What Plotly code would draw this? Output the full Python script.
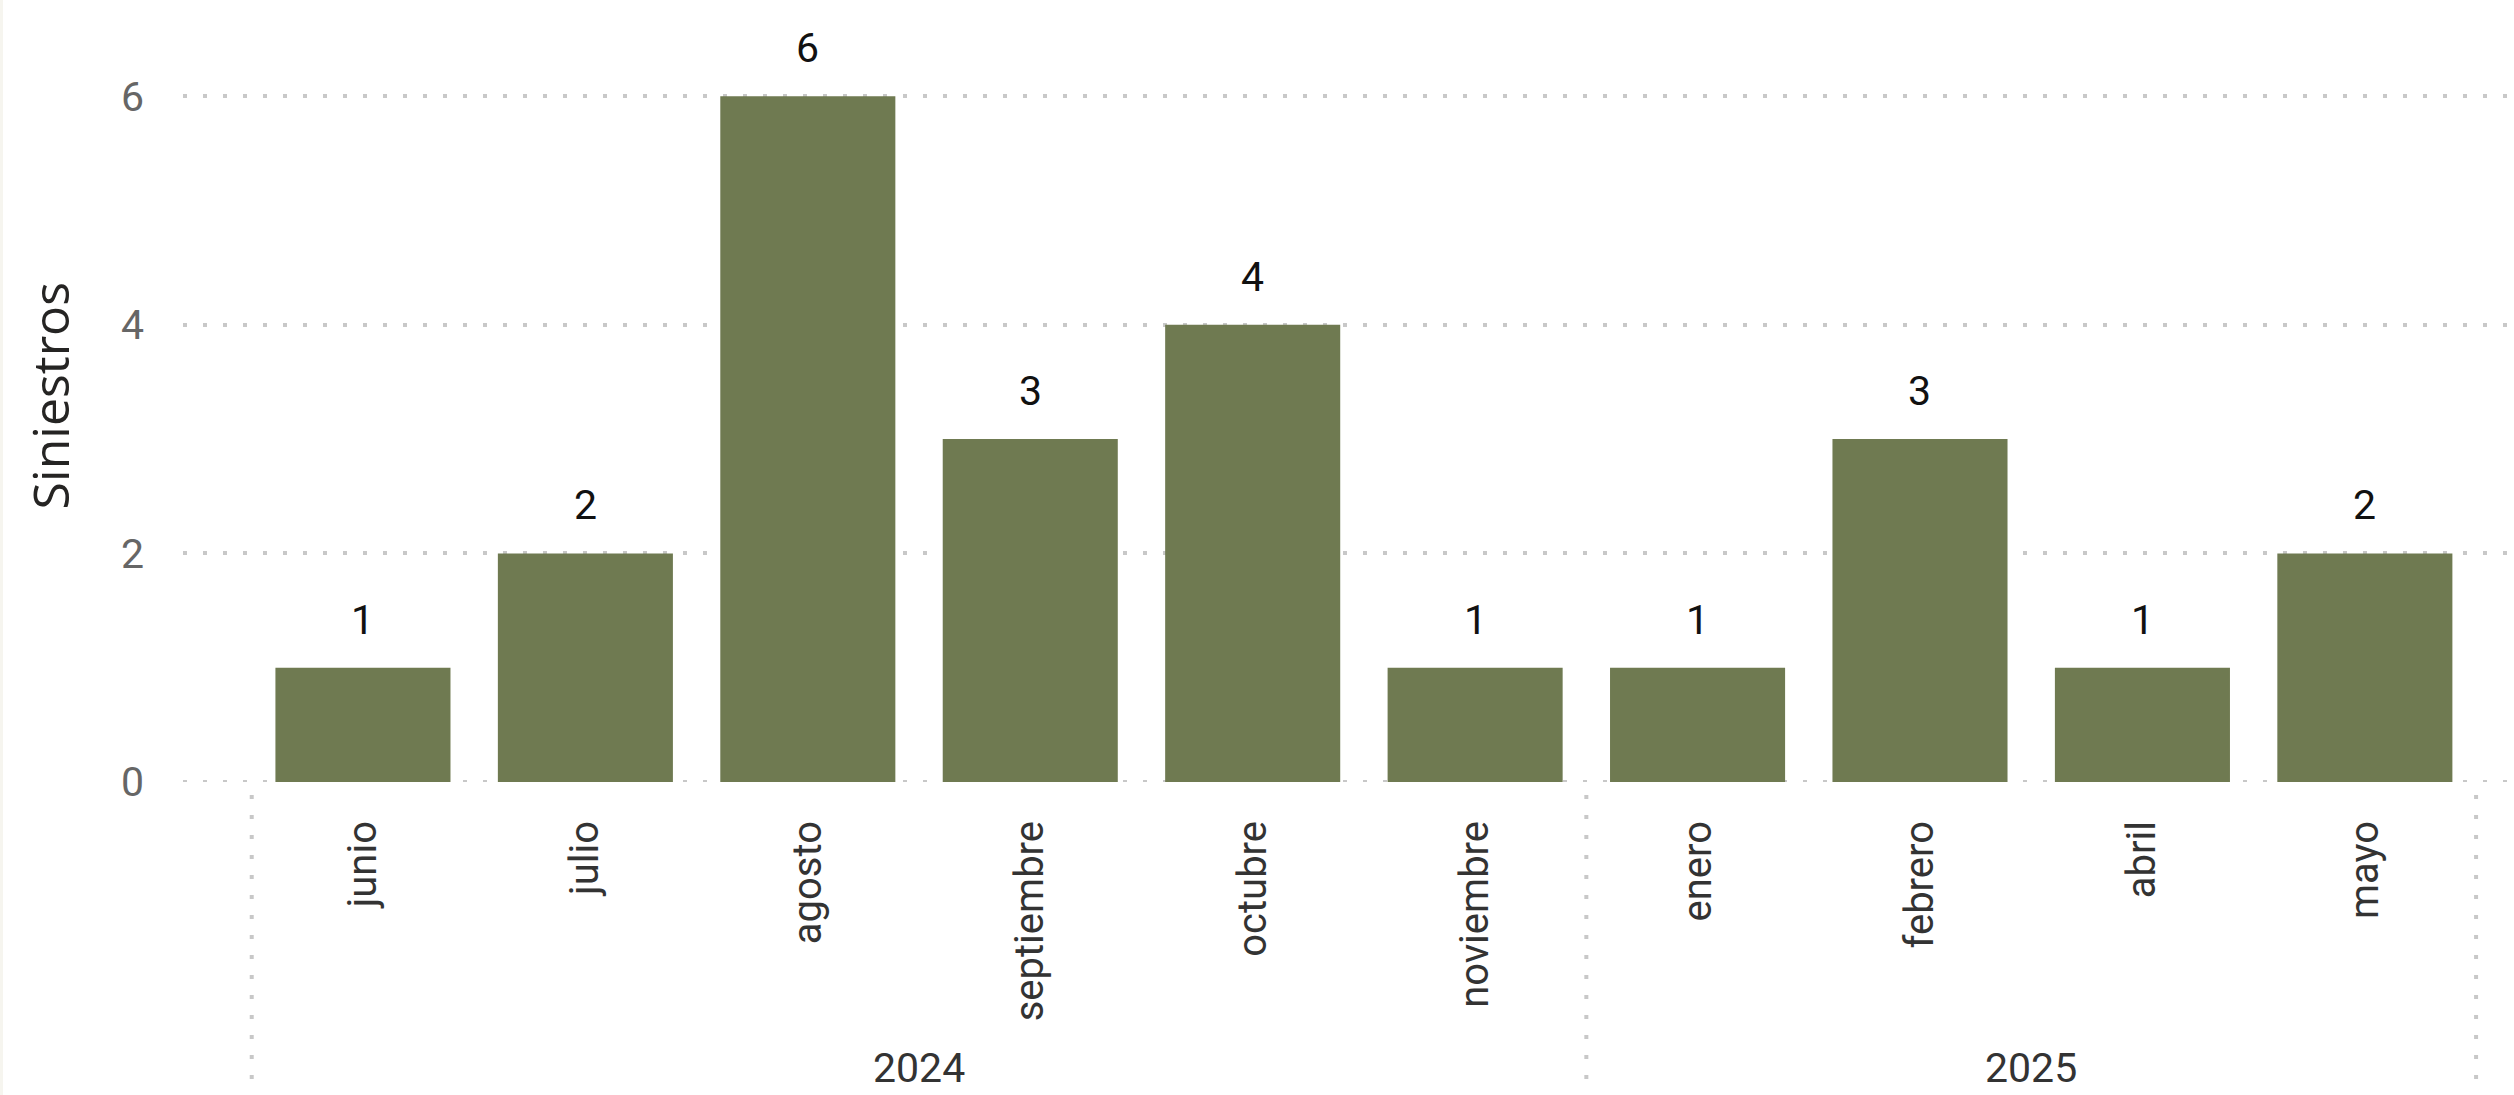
import plotly.graph_objects as go

# Monthly claim counts, grouped by year
months = ["junio", "julio", "agosto", "septiembre", "octubre", "noviembre",
          "enero", "febrero", "abril", "mayo"]
years = ["2024", "2024", "2024", "2024", "2024", "2024",
         "2025", "2025", "2025", "2025"]
siniestros = [1, 2, 6, 3, 4, 1, 1, 3, 1, 2]
y_ticks = [0, 2, 4, 6]
y_title = "Siniestros"

BAR_COLOR = "#6f7a51"
GRID_COLOR = "#c8c8c8"
DOTS = "4px,16px"
LABEL_FONT = "Roboto"

W, H = 2514, 1095
M_L, M_R, M_T, M_B = 183, 5, 39, 313

fig = go.Figure()
fig.add_trace(go.Bar(
    x=months,
    y=siniestros,
    marker=dict(color=BAR_COLOR, line=dict(width=0)),
    hoverinfo="x+y",
))

# value labels above each bar
for i, v in enumerate(siniestros):
    fig.add_annotation(
        x=i, y=v, text=str(v), showarrow=False,
        xref="x", yref="y", yanchor="bottom", yshift=22,
        font=dict(family=LABEL_FONT, size=41, color="#111111"),
    )

# dotted baseline at zero (the range starts there, so draw it explicitly)
fig.add_shape(
    type="line", xref="paper", yref="y",
    x0=0, x1=1, y0=0, y1=0,
    line=dict(color=GRID_COLOR, width=4, dash=DOTS),
    layer="below",
)

# year group labels and dotted separators between groups
groups = []
for i, yr in enumerate(years):
    if not groups or groups[-1][0] != yr:
        groups.append([yr, i, i])
    else:
        groups[-1][2] = i

bounds = [groups[0][1] - 0.5] + [g[2] + 0.5 for g in groups]
for b in bounds:
    fig.add_shape(
        type="line", xref="x", yref="paper",
        ysizemode="pixel", yanchor=0, y0=-13, y1=-320,
        x0=b, x1=b,
        line=dict(color=GRID_COLOR, width=4, dash=DOTS),
        layer="below",
    )

for yr, a, b in groups:
    fig.add_annotation(
        x=(a + b) / 2, y=0, xref="x", yref="paper",
        yanchor="middle", yshift=-286, text=yr, showarrow=False,
        font=dict(family=LABEL_FONT, size=41, color="#333333"),
    )

# axis title
fig.add_annotation(
    x=0, y=0.519, xref="paper", yref="paper", xshift=-133,
    xanchor="center", yanchor="middle", textangle=-90,
    text=y_title, showarrow=False,
    font=dict(family="Open Sans", size=50, color="#252423"),
)

# thin tinted strip along the left edge of the canvas
fig.add_shape(
    type="rect", xref="paper", yref="paper",
    xsizemode="pixel", xanchor=0, x0=-M_L, x1=-M_L + 3,
    ysizemode="pixel", yanchor=0, y0=-M_B, y1=H,
    fillcolor="#f6f5ef", line=dict(width=0), layer="below",
)

n = len(months)
fig.update_layout(
    width=W, height=H,
    margin=dict(l=M_L, r=M_R, t=M_T, b=M_B, autoexpand=False),
    paper_bgcolor="white", plot_bgcolor="white",
    bargap=0.213,
    showlegend=False,
    xaxis=dict(
        type="category", categoryorder="array", categoryarray=months,
        range=[-0.809, n - 0.5 + 0.148],
        showgrid=False, zeroline=False, showline=False,
        tickangle=-90, ticks="", ticklabelstandoff=30,
        tickfont=dict(family=LABEL_FONT, size=40, color="#333333"),
        automargin=False,
    ),
    yaxis=dict(
        range=[0, 6.5],
        tickvals=y_ticks,
        showgrid=True, gridcolor=GRID_COLOR, gridwidth=4, griddash=DOTS,
        zeroline=False, showline=False,
        ticks="", ticklabelstandoff=38,
        tickfont=dict(family=LABEL_FONT, size=41, color="#666666"),
        automargin=False,
    ),
)

fig.write_html("out.html")
